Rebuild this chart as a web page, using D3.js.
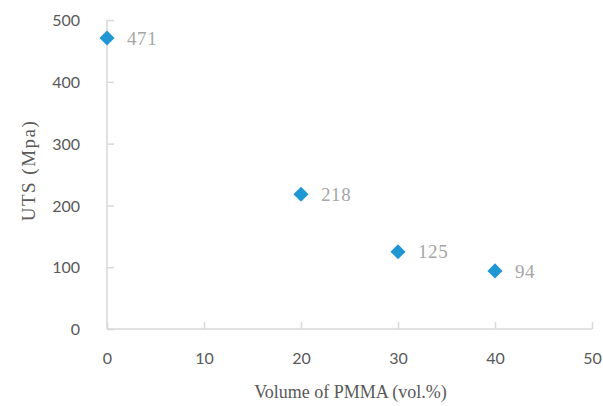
<!DOCTYPE html>
<html>
<head>
<meta charset="utf-8">
<script src="https://cdn.jsdelivr.net/npm/d3@7"></script>
<style>
  body { margin: 0; background: #fff; }
  .axis path, .axis line { stroke: #d9d9d9; stroke-width: 1.5; }
  .axis text { fill: #595959; font-family: Lato, "Open Sans", sans-serif; font-size: 16px; }
  .title { fill: #595959; font-family: "Liberation Serif", "DejaVu Serif", serif; font-size: 18px; }
  .ytitle { font-size: 19px; letter-spacing: 1.5px; }
  .lbl { fill: #a6a6a6; font-family: "Liberation Serif", "DejaVu Serif", serif; font-size: 19px; letter-spacing: 0.6px; }
</style>
</head>
<body>
<svg id="chart" width="603" height="406"></svg>
<script>
"use strict";

// data
const pmma = [0, 20, 30, 40];
const uts  = [471, 218, 125, 94];
const xTicks = [0, 10, 20, 30, 40, 50];
const yTicks = [0, 100, 200, 300, 400, 500];

const margin = { top: 20, right: 11, bottom: 77, left: 107 };
const width  = 603 - margin.left - margin.right,
      height = 406 - margin.top - margin.bottom;

const x = d3.scaleLinear().domain([0, 50]).range([0, width]);
const y = d3.scaleLinear().domain([0, 500]).range([height, 0]);

const svg = d3.select('#chart')
  .append('g')
    .attr('transform', 'translate(' + margin.left + ',' + margin.top + ')');

// x-axis (ticks inside)
const gx = svg.append('g')
    .attr('class', 'x axis')
    .attr('transform', 'translate(0,' + height + ')')
    .call(d3.axisBottom(x).tickValues(xTicks).tickSize(-7).tickPadding(24));
gx.select('.domain').attr('d', 'M0,0H' + width);
gx.selectAll('text').attr('dy', '0.71em');

// y-axis (ticks inside)
const gy = svg.append('g')
    .attr('class', 'y axis')
    .call(d3.axisLeft(y).tickValues(yTicks).tickSize(-7).tickPadding(27));
gy.select('.domain').attr('d', 'M0,' + height + 'V0');
gy.selectAll('text').attr('dy', '0.35em');

// axis titles
svg.append('text')
    .attr('class', 'title')
    .attr('x', width / 2 + 1)
    .attr('y', height + 69)
    .attr('text-anchor', 'middle')
    .text('Volume of PMMA (vol.%)');

svg.append('text')
    .attr('class', 'title ytitle')
    .attr('transform', 'rotate(-90)')
    .attr('x', -(height / 2) + 4)
    .attr('y', -72)
    .attr('text-anchor', 'middle')
    .text('UTS (Mpa)');

const pts = pmma.map((v, i) => ({ x: v, y: uts[i] }));

// markers
svg.selectAll('.pt')
    .data(pts)
  .enter().append('path')
    .attr('class', 'pt')
    .attr('d', d3.symbol().type(d3.symbolDiamond2).size(145))
    .attr('transform', (d) => 'translate(' + x(d.x) + ',' + y(d.y) + ')')
    .attr('fill', '#1f97d4');

// data labels
svg.selectAll('.lbl')
    .data(pts)
  .enter().append('text')
    .attr('class', 'lbl')
    .attr('x', (d) => x(d.x) + 20)
    .attr('y', (d) => y(d.y))
    .attr('dy', '0.35em')
    .text((d) => d.y);
</script>
</body>
</html>
